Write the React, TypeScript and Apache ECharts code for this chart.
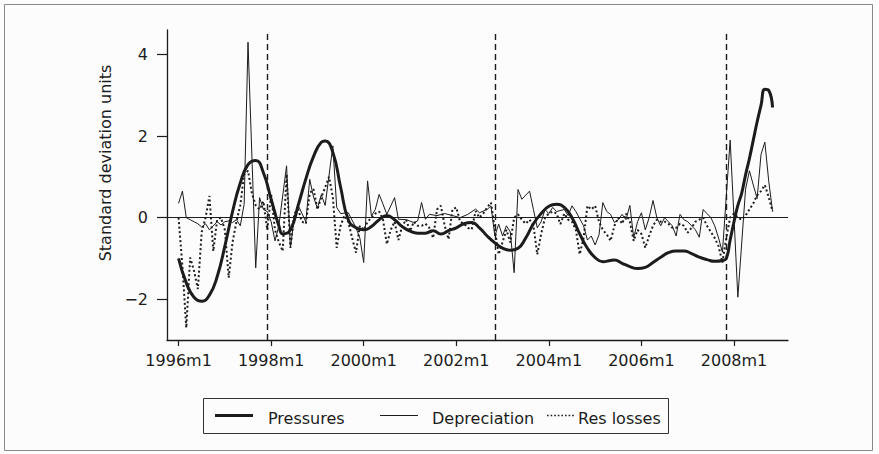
import React, { useEffect, useRef } from "react";
import * as echarts from "echarts";

// month index 0 = 1996m1
const xTickMonths = [0, 24, 48, 72, 96, 120, 144];
const xTickLabels = ["1996m1", "1998m1", "2000m1", "2002m1", "2004m1", "2006m1", "2008m1"];
const yTicks = [-2, 0, 2, 4];
const breakMonths = [23, 82, 142];

const pressures: [number, number][] = [
  [0, -1.0], [2, -1.6], [4, -1.95], [6, -2.05], [8, -1.9], [10, -1.45], [12, -0.7], [14, 0.15],
  [16, 0.85], [18, 1.3], [20, 1.4], [22, 1.1], [24, 0.45], [26, -0.2], [27, -0.4], [29, -0.3],
  [31, 0.3], [33, 0.95], [35, 1.5], [37, 1.85], [38, 1.88], [40, 1.6], [42, 0.75], [44, -0.05],
  [46, -0.25], [48, -0.3], [50, -0.22], [52, -0.05], [54, 0.05], [56, -0.05], [58, -0.22],
  [60, -0.33], [62, -0.38], [64, -0.38], [66, -0.32], [68, -0.4], [70, -0.32], [72, -0.25],
  [74, -0.15], [76, -0.12], [78, -0.25], [80, -0.45], [82, -0.62], [84, -0.75], [86, -0.8],
  [88, -0.75], [90, -0.5], [92, -0.15], [94, 0.1], [96, 0.28], [98, 0.33], [100, 0.25], [102, 0.0],
  [104, -0.4], [106, -0.75], [108, -0.98], [110, -1.08], [112, -1.05], [113, -1.04], [115, -1.12],
  [117, -1.2], [119, -1.25], [121, -1.22], [123, -1.1], [125, -0.97], [127, -0.86], [129, -0.82],
  [131, -0.82], [133, -0.88], [135, -0.97], [137, -1.03], [139, -1.07], [141, -1.05], [142, -1.0],
  [143, -0.55], [144, -0.1], [145, 0.3], [146, 0.6], [147, 1.05], [148, 1.45], [149, 1.9],
  [150, 2.35], [151, 2.75], [152, 3.15], [153, 3.12], [154, 2.7],
];

const depreciation: [number, number][] = [
  [0, 0.35], [1, 0.65], [2, 0.0], [3, -0.05], [4, -0.1], [5, -0.15], [6, -0.23], [7, -0.15],
  [8, -0.3], [9, -0.2], [10, -0.1], [11, -0.18], [12, -0.1], [13, -0.08], [14, -0.12], [15, -0.05],
  [16, -0.2], [17, 0.33], [18, 4.3], [20, -1.23], [21, 0.49], [22, 0.2], [23, 0.15], [24, -0.1],
  [25, -0.57], [26, -0.2], [28, 1.27], [29, -0.74], [30, 0.0], [31, 0.3], [32, 0.1], [33, -0.1],
  [34, 0.94], [35, 0.5], [36, 0.23], [37, 0.56], [38, 0.3], [40, 1.76], [41, 0.25], [42, 0.1],
  [44, 0.12], [46, -0.25], [47, -0.5], [48, -1.1], [49, 0.9], [50, 0.04], [51, 0.2], [52, 0.57],
  [53, 0.33], [54, 0.08], [56, 0.49], [57, -0.04], [59, -0.05], [61, -0.12], [62, -0.08], [63, 0.37],
  [64, -0.04], [65, 0.08], [67, 0.05], [69, 0.1], [71, 0.05], [73, 0.0], [75, 0.08], [77, 0.21],
  [78, 0.12], [80, 0.2], [81, 0.29], [82, -0.45], [83, -0.16], [84, -0.45], [85, -0.2], [86, -0.35],
  [87, -1.35], [88, 0.69], [89, 0.45], [91, 0.65], [92, 0.2], [93, -0.25], [94, -0.1], [95, 0.2],
  [96, 0.1], [97, 0.25], [98, 0.15], [100, 0.2], [101, 0.05], [102, 0.29], [103, 0.15], [105, -0.2],
  [106, -0.55], [107, -0.45], [108, -0.67], [109, -0.42], [110, 0.37], [111, 0.15], [112, 0.08],
  [113, -0.12], [114, -0.05], [115, 0.08], [116, -0.05], [117, 0.3], [118, -0.49], [119, -0.1],
  [120, 0.12], [121, -0.3], [122, 0.0], [123, 0.42], [124, 0.0], [125, -0.2], [126, 0.0], [127, -0.1],
  [128, -0.2], [129, -0.45], [130, 0.08], [131, -0.05], [132, -0.1], [133, -0.2], [134, -0.3],
  [135, -0.48], [136, 0.2], [137, 0.1], [138, 0.0], [139, -0.2], [140, -0.5], [141, -0.85],
  [143, 1.9], [144, 0.0], [145, -1.95], [147, 0.7], [148, 1.15], [149, 0.8], [150, 0.47],
  [151, 1.55], [152, 1.85], [153, 0.9], [154, 0.15],
];

const resLosses: [number, number][] = [
  [0, 0.0], [1, -1.2], [2, -2.7], [3, -0.98], [4, -1.3], [5, -1.75], [6, -0.35], [7, 0.0], [8, 0.53],
  [9, -0.82], [10, -0.05], [11, 0.0], [12, -0.3], [13, -1.47], [14, -0.6], [15, -0.1], [16, 0.3],
  [17, 1.06], [18, 1.15], [19, 0.6], [20, 0.3], [21, 0.2], [22, 0.4], [23, -0.3], [24, 0.57],
  [25, -0.3], [26, -0.6], [27, -0.82], [28, 1.06], [29, -0.74], [30, 0.1], [31, 0.2], [32, -0.1],
  [33, -0.15], [34, 0.6], [35, 0.7], [36, 0.2], [37, 0.5], [38, 0.74], [39, 1.0], [40, 0.5],
  [41, -0.74], [42, -0.2], [43, 0.05], [44, -0.1], [45, -0.5], [46, -0.86], [47, -0.2], [48, -0.3],
  [49, -0.1], [50, 0.0], [51, 0.1], [52, 0.15], [53, -0.05], [54, -0.65], [55, -0.3], [56, -0.1],
  [57, -0.55], [58, -0.2], [59, -0.05], [60, -0.33], [61, -0.1], [62, -0.2], [63, -0.2], [64, -0.15],
  [65, -0.25], [66, -0.5], [67, 0.2], [68, 0.29], [69, -0.2], [70, -0.53], [71, 0.2], [72, 0.25],
  [73, -0.1], [74, -0.15], [75, -0.25], [76, -0.29], [77, 0.16], [78, 0.0], [79, 0.1], [80, 0.25],
  [81, 0.37], [82, -0.3], [83, -0.9], [84, -0.6], [85, -0.3], [86, -0.61], [87, 0.0], [88, 0.08],
  [89, -0.05], [90, -0.15], [91, -0.05], [92, -0.2], [93, -0.9], [94, -0.4], [95, 0.0], [96, 0.1],
  [97, 0.15], [98, 0.1], [99, -0.16], [100, 0.1], [101, -0.05], [102, -0.1], [103, -0.3], [104, -0.9],
  [105, -0.5], [106, 0.29], [107, 0.2], [108, 0.29], [109, -0.1], [110, -0.3], [111, -0.41],
  [112, -0.57], [113, -0.2], [114, 0.0], [115, -0.15], [116, 0.1], [117, -0.1], [118, -0.57],
  [119, -0.3], [120, -0.4], [121, -0.74], [122, -0.45], [123, -0.2], [124, -0.05], [125, -0.1],
  [126, -0.1], [127, -0.15], [128, -0.25], [129, -0.25], [130, -0.15], [131, -0.2], [132, -0.37],
  [133, -0.25], [134, -0.1], [135, -0.05], [136, 0.0], [137, -0.2], [138, -0.35], [139, -0.5],
  [140, -0.7], [141, -1.1], [142, -0.5], [143, 0.0], [144, 0.1], [145, 0.0], [146, -0.05],
  [147, 0.05], [148, 0.2], [149, 0.35], [150, 0.55], [151, 0.65], [152, 0.8], [153, 0.5], [154, 0.15],
];

const seriesNames = ["Pressures", "Depreciation", "Res losses"];

const FONT = "DejaVu Sans";
const INK = "#1c1c1c";

export default function App() {
  const ref = useRef<HTMLDivElement>(null);
  useEffect(() => {
    if (!ref.current) return;
    const chart = echarts.init(ref.current, undefined, { renderer: "svg" });
    chart.setOption({
      animation: false,
      backgroundColor: "#fcfcfc",
      grid: { left: 167, top: 30, right: 91, bottom: 114 },
      xAxis: {
        type: "value",
        min: -3,
        max: 158,
        axisLine: { show: true, onZero: false, lineStyle: { color: INK, width: 1.3 } },
        axisTick: { show: true, length: 6, customValues: xTickMonths, lineStyle: { color: INK, width: 1.2 } },
        axisLabel: {
          customValues: xTickMonths,
          margin: 12,
          color: INK,
          fontFamily: FONT,
          fontSize: 16,
          formatter: (v: number) => {
            const k = xTickMonths.indexOf(v);
            return k >= 0 ? xTickLabels[k] : "";
          },
        },
        splitLine: { show: false },
      },
      yAxis: {
        type: "value",
        min: -3,
        max: 4.6,
        axisLine: { show: true, onZero: false, lineStyle: { color: INK, width: 1.3 } },
        axisTick: { show: true, length: 10, customValues: yTicks, lineStyle: { color: INK, width: 1.2 } },
        axisLabel: {
          customValues: yTicks,
          margin: 19,
          color: INK,
          fontFamily: FONT,
          fontSize: 16,
          formatter: (v: number) => (v < 0 ? "\u2212" + Math.abs(v) : String(v)),
        },
        splitLine: { show: false },
      },
      series: [
        {
          name: seriesNames[0],
          type: "line",
          data: pressures,
          smooth: 0.5,
          showSymbol: false,
          symbol: "none",
          z: 5,
          lineStyle: { color: INK, width: 3 },
          markLine: {
            silent: true,
            symbol: "none",
            label: { show: false },
            data: [
              ...breakMonths.map((m) => ({
                xAxis: m,
                lineStyle: { color: INK, width: 1.4, type: [6, 4] },
              })),
              { yAxis: 0, lineStyle: { color: INK, width: 1, type: "solid" } },
            ],
          },
        },
        {
          name: seriesNames[1],
          type: "line",
          data: depreciation,
          showSymbol: false,
          symbol: "none",
          z: 4,
          lineStyle: { color: INK, width: 1 },
        },
        {
          name: seriesNames[2],
          type: "line",
          data: resLosses,
          showSymbol: false,
          symbol: "none",
          z: 3,
          lineStyle: { color: INK, width: 2, type: [2, 2.5] },
        },
      ],
      graphic: [
        {
          type: "rect",
          shape: { x: 4.5, y: 4.5, width: 868, height: 446 },
          style: { fill: "none", stroke: "#888", lineWidth: 1 },
          silent: true,
        },
        {
          type: "text",
          x: 105,
          y: 163,
          rotation: Math.PI / 2,
          style: {
            text: "Standard deviation units",
            fontFamily: FONT,
            fontSize: 16,
            fill: INK,
            align: "center",
            verticalAlign: "middle",
          },
        },
        {
          type: "rect",
          shape: { x: 203.5, y: 398.5, width: 465, height: 35 },
          style: { fill: "none", stroke: "#333", lineWidth: 1 },
        },
        { type: "line", shape: { x1: 215, y1: 415.5, x2: 253, y2: 415.5 }, style: { stroke: INK, lineWidth: 3 } },
        { type: "line", shape: { x1: 380, y1: 415.5, x2: 418, y2: 415.5 }, style: { stroke: INK, lineWidth: 1 } },
        {
          type: "line",
          shape: { x1: 547, y1: 415.5, x2: 575, y2: 415.5 },
          style: { stroke: INK, lineWidth: 1.6, lineDash: [1.6, 2] },
        },
        {
          type: "text",
          x: 268,
          y: 418,
          style: { text: seriesNames[0], fontFamily: FONT, fontSize: 16, fill: INK, verticalAlign: "middle" },
        },
        {
          type: "text",
          x: 432,
          y: 418,
          style: { text: seriesNames[1], fontFamily: FONT, fontSize: 16, fill: INK, verticalAlign: "middle" },
        },
        {
          type: "text",
          x: 578,
          y: 418,
          style: { text: seriesNames[2], fontFamily: FONT, fontSize: 16, fill: INK, verticalAlign: "middle" },
        },
      ],
    });
    return () => chart.dispose();
  }, []);
  return (
    <div
      ref={ref}
      style={{ position: "absolute", left: 0, top: 0, width: 879, height: 454 }}
    />
  );
}
